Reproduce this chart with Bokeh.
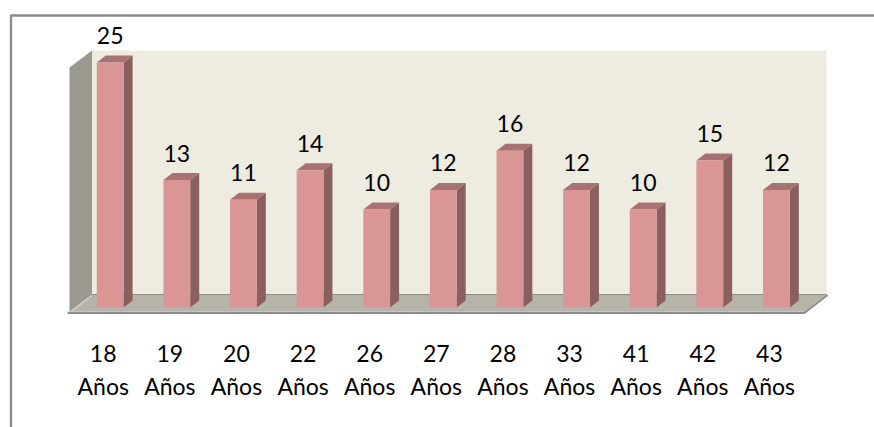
from bokeh.plotting import figure
from bokeh.models import Range1d
from bokeh.core.properties import value
from bokeh.embed import file_html
from bokeh.resources import INLINE

# Data
ages = ["18", "19", "20", "22", "26", "27", "28", "33", "41", "42", "43"]
counts = [25, 13, 11, 14, 10, 12, 16, 12, 10, 15, 12]
unit = "Años"

# Layout (screen px in the page) and colours
W, H = 874, 427
OX, OY = 0, 0
Y0, PX_PER_V = 307.0, 9.8
X0, PX_PER_I = 109.7, 66.62
FONT = "Lato"
FS = "23px"
LABEL_GAP = 27.0
ROW1, ROW2 = 353.0, 385.0


def ix(px):
    return (px - X0) / PX_PER_I


def vy(py):
    return (Y0 - py) / PX_PER_V


p = figure(width=W, height=H, output_backend="svg", toolbar_location=None,
           x_range=Range1d(ix(OX), ix(OX + W)), y_range=Range1d(vy(OY + H), vy(OY)),
           min_border=0, min_border_left=0, min_border_right=0, min_border_top=0, min_border_bottom=0)
p.axis.visible = False
p.grid.visible = False
p.outline_line_color = None
p.background_fill_color = "white"
p.border_fill_color = "white"


def poly(pts, color):
    p.patch([ix(a) for a, _ in pts], [vy(b) for _, b in pts], fill_color=color, line_color=None)


def seg(pts, color, w):
    p.line([ix(a) for a, _ in pts], [vy(b) for _, b in pts], line_color=color, line_width=w, line_cap="butt")


# Outer frame
seg([(10.5, 427), (10.5, 15), (874, 15)], "#8C8C8C", 2.4)

# 3-D box: back wall, left wall, floor
poly([(91.5, 50), (826, 50), (826, 294), (91.5, 294)], "#EEEBE0")
poly([(69, 67), (91.5, 50), (91.5, 294), (69, 311)], "#9B9890")
poly([(91.5, 294), (826, 294), (803.5, 311), (69, 311)], "#B6B3A9")
seg([(91.5, 294), (826, 294)], "#8F8D86", 1)
seg([(71, 311), (91.5, 295)], "#D8D6CE", 1)
seg([(67, 312.3), (803.7, 312.3), (827, 294.5)], "#8C8C8C", 2.2)

# 3-D bars
BW = 26.8 / PX_PER_I
DX = 9.0 / PX_PER_I
DY = 7.0 / PX_PER_V
idx = list(range(len(ages)))
top_xs, top_ys, side_xs, side_ys = [], [], [], []
for i, c in zip(idx, counts):
    l, r = i - BW / 2, i + BW / 2
    top_xs.append([l, r, r + DX, l + DX])
    top_ys.append([c, c, c + DY, c + DY])
    side_xs.append([r, r + DX, r + DX, r])
    side_ys.append([0, DY, c + DY, c])
p.patches(side_xs, side_ys, fill_color="#8C5F5F", line_color=None)
p.patches(top_xs, top_ys, fill_color="#A87272", line_color=None)
p.vbar(x=idx, top=counts, bottom=0, width=BW, fill_color="#DA9694", line_color=None)

# Value labels
p.text(x=idx, y=[c + LABEL_GAP / PX_PER_V for c in counts], text=[str(c) for c in counts],
       text_font=value(FONT), text_font_size=FS, text_color="#000000",
       text_align="center", text_baseline="alphabetic")

# Category labels
lx = [i - 7 / PX_PER_I for i in idx]
p.text(x=lx, y=[vy(ROW1)] * len(idx), text=ages,
       text_font=value(FONT), text_font_size=FS, text_color="#000000",
       text_align="center", text_baseline="alphabetic")
p.text(x=lx, y=[vy(ROW2)] * len(idx), text=[unit] * len(idx),
       text_font=value(FONT), text_font_size=FS, text_color="#000000",
       text_align="center", text_baseline="alphabetic")

open("out.html", "w").write(file_html(p, INLINE))
